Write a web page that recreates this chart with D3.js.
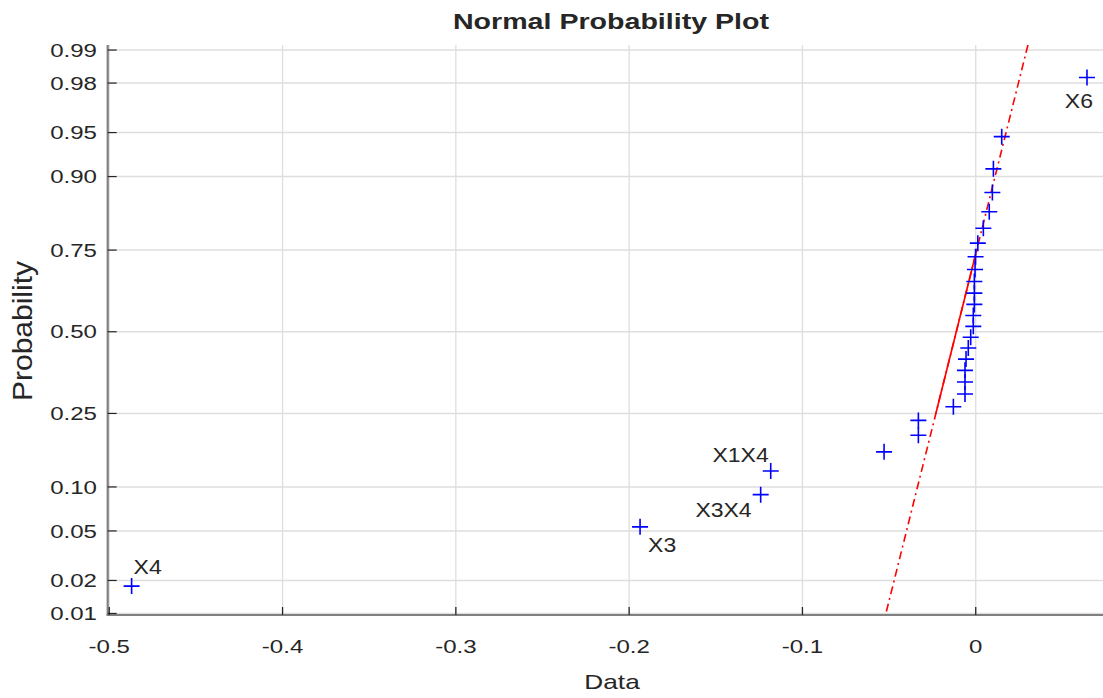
<!DOCTYPE html>
<html>
<head>
<meta charset="utf-8">
<script src="https://cdn.jsdelivr.net/npm/d3@7"></script>
<style>
  body { margin: 0; background: #fff; }
  svg { display: block; }
  text { font-family: "Liberation Sans", Arial, Helvetica, sans-serif; fill: #262626; }
</style>
</head>
<body>
<svg id="chart" width="1103" height="698"></svg>
<script>
// effect estimates, sorted ascending (one per point)
const effects = [
  -0.4871, -0.1937, -0.1241, -0.1183, -0.0529, -0.0331, -0.0331, -0.0129,
  -0.0062, -0.0062, -0.0062, -0.0056, -0.0043, -0.0029, -0.0014, -0.0014,
  -0.0008, -0.0008, -0.0008, -0.0004, -0.0001, 0.0012, 0.0044, 0.0078,
  0.0096, 0.0102, 0.0150, 0.0642
];

// labelled effects: rank index into effects + name
const effectLabels = [
  { rank: 0, name: "X4" },
  { rank: 1, name: "X3" },
  { rank: 2, name: "X3X4" },
  { rank: 3, name: "X1X4" },
  { rank: 27, name: "X6" }
];

const probTicks = [0.01, 0.02, 0.05, 0.10, 0.25, 0.50, 0.75, 0.90, 0.95, 0.98, 0.99];
const dataTicks = [-0.5, -0.4, -0.3, -0.2, -0.1, 0];

// label placement (screen offsets from the marker)
const labelOffsets = {
  X4:   { dx: 2,  dy: -12, anchor: "start" },
  X3:   { dx: 8,  dy: 25,  anchor: "start" },
  X3X4: { dx: -9, dy: 22,  anchor: "end" },
  X1X4: { dx: -2, dy: -9,  anchor: "end" },
  X6:   { dx: 6,  dy: 31,  anchor: "end" }
};

// -----------------------------
// Helpers
// -----------------------------

// inverse normal CDF (Acklam)
function probit(p) {
  const a = [-3.969683028665376e+01, 2.209460984245205e+02, -2.759285104469687e+02,
             1.383577518672690e+02, -3.066479806614716e+01, 2.506628277459239e+00];
  const b = [-5.447609879822406e+01, 1.615858368580409e+02, -1.556989798598866e+02,
             6.680131188771972e+01, -1.328068155288572e+01];
  const c = [-7.784894002430293e-03, -3.223964580411365e-01, -2.400758277161838e+00,
             -2.549732539343734e+00, 4.374664141464968e+00, 2.938163982698783e+00];
  const d = [7.784695709041462e-03, 3.224671290700398e-01, 2.445134137142996e+00,
             3.754408661907416e+00];
  const pl = 0.02425;
  let q, r;
  if (p < pl) {
    q = Math.sqrt(-2 * Math.log(p));
    return (((((c[0]*q+c[1])*q+c[2])*q+c[3])*q+c[4])*q+c[5]) / ((((d[0]*q+d[1])*q+d[2])*q+d[3])*q+1);
  }
  if (p > 1 - pl) {
    q = Math.sqrt(-2 * Math.log(1 - p));
    return -(((((c[0]*q+c[1])*q+c[2])*q+c[3])*q+c[4])*q+c[5]) / ((((d[0]*q+d[1])*q+d[2])*q+d[3])*q+1);
  }
  q = p - 0.5;
  r = q * q;
  return (((((a[0]*r+a[1])*r+a[2])*r+a[3])*r+a[4])*r+a[5])*q / (((((b[0]*r+b[1])*r+b[2])*r+b[3])*r+b[4])*r+1);
}

// matlab-style prctile on sorted data
function prctile(sorted, pct) {
  const n = sorted.length;
  const pos = n * pct / 100 + 0.5;
  const lo = Math.floor(pos), frac = pos - lo;
  return sorted[lo - 1] + frac * (sorted[lo] - sorted[lo - 1]);
}

// the picture is horizontally stretched, text too
const SX = 1.3;
function stretchedText(g, x, y, str, size, opts = {}) {
  return g.append("text")
    .attr("transform", `translate(${x},${y}) scale(${opts.sx ?? SX},1)`)
    .attr("text-anchor", opts.anchor || "middle")
    .attr("font-size", size)
    .attr("font-weight", opts.bold ? "bold" : null)
    .text(str);
}

// plain hyphen minus like matlab, not the unicode one d3 uses
const fmtX = t => (t === 0 ? "0" : t.toFixed(1));
const fmtP = t => t.toFixed(2);

// -----------------------------
// Layout + scales
// -----------------------------
const svg = d3.select("#chart");
const plot = { left: 107.7, right: 1110.9, top: 45, bottom: 615 };

const n = effects.length;
const x = d3.scaleLinear().domain([-0.5009, 0.078]).range([plot.left, plot.right]);
const y = d3.scaleLinear().domain([-2.339, 2.368]).range([plot.bottom, plot.top]);

// plotting positions (i - 0.5) / n as in normplot
const points = effects.map((v, i) => ({ v, p: (i + 0.5) / n }));

// -----------------------------
// Grid
// -----------------------------
const grid = svg.append("g");
grid.selectAll("line.hgrid")
  .data(probTicks)
  .join("line")
  .attr("x1", plot.left).attr("x2", plot.right)
  .attr("y1", d => y(probit(d))).attr("y2", d => y(probit(d)))
  .attr("stroke", "#dedede").attr("stroke-width", 1.5);

grid.selectAll("line.vgrid")
  .data(dataTicks)
  .join("line")
  .attr("x1", d => x(d)).attr("x2", d => x(d))
  .attr("y1", plot.top).attr("y2", plot.bottom)
  .attr("stroke", "#dedede").attr("stroke-width", 1.3);

// -----------------------------
// Reference line (quartile fit)
// -----------------------------
const q1 = prctile(effects, 25), q3 = prctile(effects, 75);
const z1 = probit(0.25), z3 = probit(0.75);
const slope = (z3 - z1) / (q3 - q1);
const zAt = v => z1 + slope * (v - q1);

svg.append("clipPath").attr("id", "plotClip")
  .append("rect")
  .attr("x", plot.left).attr("y", plot.top)
  .attr("width", plot.right - plot.left).attr("height", plot.bottom - plot.top);

const lines = svg.append("g").attr("clip-path", "url(#plotClip)");
const xmin = d3.min(effects), xmax = d3.max(effects);

lines.append("line")
  .attr("x1", x(xmin)).attr("y1", y(zAt(xmin)))
  .attr("x2", x(xmax)).attr("y2", y(zAt(xmax)))
  .attr("stroke", "#ff0000").attr("stroke-width", 1.6)
  .attr("stroke-dasharray", "8,4,2,4");

lines.append("line")
  .attr("x1", x(q1)).attr("y1", y(z1))
  .attr("x2", x(q3)).attr("y2", y(z3))
  .attr("stroke", "#ff0000").attr("stroke-width", 1.6);

// -----------------------------
// Markers
// -----------------------------
svg.append("g")
  .selectAll("path.pt")
  .data(points)
  .join("path")
  .attr("transform", d => `translate(${x(d.v)},${y(probit(d.p))})`)
  .attr("d", "M-8,0H8M0,-8V8")
  .attr("stroke", "#0000ff").attr("stroke-width", 1.6).attr("fill", "none");

// labels
const lbl = svg.append("g");
effectLabels.forEach(l => {
  const d = points[l.rank];
  const o = labelOffsets[l.name];
  stretchedText(lbl, x(d.v) + o.dx, y(probit(d.p)) + o.dy, l.name, 20, { anchor: o.anchor, sx: 1.15 });
});

// -----------------------------
// Axes
// -----------------------------
const ax = svg.append("g");
ax.append("line")
  .attr("x1", plot.left).attr("x2", plot.left)
  .attr("y1", plot.top).attr("y2", plot.bottom + 1)
  .attr("stroke", "#808080").attr("stroke-width", 2.2);
ax.append("line")
  .attr("x1", plot.left - 1).attr("x2", plot.right)
  .attr("y1", plot.bottom).attr("y2", plot.bottom)
  .attr("stroke", "#808080").attr("stroke-width", 2.2);

ax.selectAll("line.ytick")
  .data(probTicks)
  .join("line")
  .attr("x1", plot.left).attr("x2", plot.left + 9)
  .attr("y1", d => y(probit(d))).attr("y2", d => y(probit(d)))
  .attr("stroke", "#262626").attr("stroke-width", 1.2);

ax.selectAll("line.xtick")
  .data(dataTicks)
  .join("line")
  .attr("x1", d => x(d)).attr("x2", d => x(d))
  .attr("y1", plot.bottom).attr("y2", plot.bottom - 8)
  .attr("stroke", "#262626").attr("stroke-width", 1.3);

probTicks.forEach(t => {
  stretchedText(ax, 97, y(probit(t)) + 6.6, fmtP(t), 18.5, { anchor: "end" });
});
dataTicks.forEach(t => {
  stretchedText(ax, x(t), 653.3, fmtX(t), 18.5);
});

// titles
stretchedText(svg, 611, 28.5, "Normal Probability Plot", 22, { bold: true });
stretchedText(svg, 612, 689, "Data", 21, { sx: 1.25 });

svg.append("text")
  .attr("transform", `translate(32,331) rotate(-90) scale(1,1.3)`)
  .attr("text-anchor", "middle")
  .attr("font-size", 21)
  .attr("textLength", 140)
  .attr("lengthAdjust", "spacingAndGlyphs")
  .text("Probability");
</script>
</body>
</html>
